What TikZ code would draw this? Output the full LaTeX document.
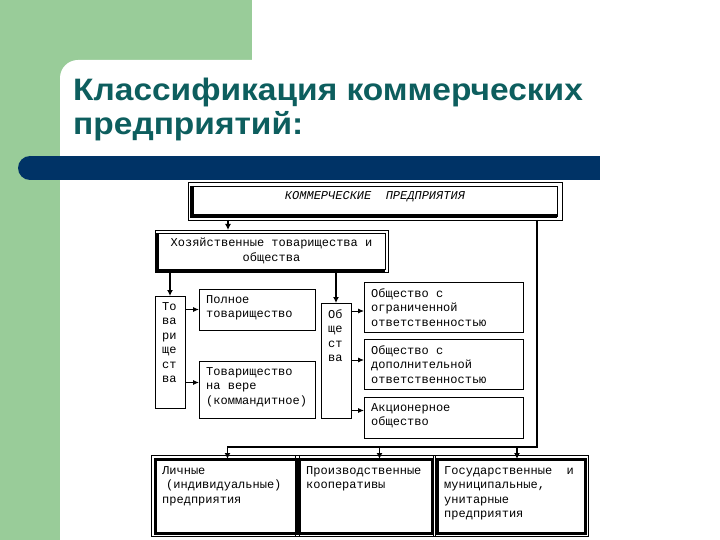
\documentclass[tikz,border=0pt]{standalone}
\usepackage{fontspec}
\setmainfont{Liberation Sans}
\setmonofont{Liberation Mono}
\usetikzlibrary{arrows.meta,calc}
\definecolor{LeafGreen}{RGB}{153, 204, 153}
\definecolor{BarNavy}{RGB}{0, 51, 102}
\definecolor{TitleTeal}{RGB}{13, 94, 94}

\tikzset{
    box/.style={draw, line width=0.8pt, anchor=north west, inner sep=0pt, outer sep=0pt},
    txt/.style={anchor=north west, align=left, inner xsep=7pt, inner ysep=6pt,
        font=\ttfamily\fontsize{12}{14.5}\selectfont},
    link/.style={line width=1.8pt, -{Latex[length=6pt,width=6pt]}},
    thinlink/.style={line width=0.9pt, -{Latex[length=6pt,width=5pt]}},
}

\begin{document}
\begin{tikzpicture}[x=1pt, y=-1pt]
    \useasboundingbox (0,0) rectangle (720,540);
    % Slide background
    \fill[white] (0,0) rectangle (720,540);
    \fill[LeafGreen] (0,0) rectangle (252,80);
    \fill[LeafGreen] (0,0) rectangle (60,540);
    \fill[white, rounded corners=18pt] (60,60) rectangle (740,560);
    \fill[BarNavy] (30,168) circle (12);
    \fill[BarNavy] (30,156) rectangle (600,180);
    % Title
    \node[anchor=base west, align=left, inner sep=0pt, text=TitleTeal, xscale=1.08, transform shape,
        font=\bfseries\fontsize{31}{34}\selectfont] (title) at (73,135)
        {Классификация коммерческих\\предприятий:};
    % Boxes
    \node[box, line width=0.6pt, minimum width=374pt, minimum height=38pt,
        label={[txt, anchor=north, inner ysep=9pt, font=\ttfamily\itshape\fontsize{12}{14.5}\selectfont]north:КОММЕРЧЕСКИЕ~~ПРЕДПРИЯТИЯ}] (top) at (188,182) {};
    \node[box, line width=0.6pt, minimum width=233pt, minimum height=42pt, align=center,
        font=\ttfamily\fontsize{12}{14.5}\selectfont] (hoz) at (155,230)
        {Хозяйственные товарищества и\\общества};
    \node[box, minimum width=30pt, minimum height=112pt,
        label={[txt]north west:То\\ва\\ри\\ще\\ст\\ва}] (tovcol) at (155,296) {};
    \node[box, minimum width=116pt, minimum height=41pt,
        label={[txt]north west:Полное\\товарищество}] (poln) at (199,289) {};
    \node[box, minimum width=116pt, minimum height=57pt,
        label={[txt]north west:Товарищество\\на вере\\(коммандитное)}] (vera) at (199,361) {};
    \node[box, minimum width=30pt, minimum height=115pt,
        label={[txt]north west:Об\\ще\\ст\\ва}] (obcol) at (321,303) {};
    \node[box, minimum width=159pt, minimum height=50pt,
        label={[txt]north west:Общество с\\ограниченной\\ответственностью}] (ooo) at (364,282) {};
    \node[box, minimum width=159pt, minimum height=50pt,
        label={[txt]north west:Общество с\\дополнительной\\ответственностью}] (odo) at (364,339) {};
    \node[box, minimum width=159pt, minimum height=41pt,
        label={[txt]north west:Акционерное\\общество}] (ao) at (364,397) {};
    \node[box, line width=3pt, minimum width=141pt, minimum height=74pt,
        label={[txt, inner ysep=7pt]north west:Личные\\\hspace{4pt}(индивидуальные)\\предприятия}] (lich) at (155,459) {};
    \node[box, line width=3pt, minimum width=133pt, minimum height=74pt,
        label={[txt, inner ysep=7pt]north west:Производственные\\кооперативы}] (prod) at (299,459) {};
    \node[box, line width=3pt, minimum width=148pt, minimum height=74pt,
        label={[txt, inner ysep=7pt]north west:Государственные~~и\\муниципальные,\\унитарные\\предприятия}] (gos) at (437,459) {};
    % Shadow frames
    \draw[line width=0.6pt] ($(top.north west)+(4,4)$) rectangle ($(top.south east)+(-5,-4)$);
    \draw[line width=4pt] ($(top.north west)+(4,4)$) -- ($(top.south west)+(4,-4)$) -- ($(top.south east)+(-5,-4)$);
    \draw[line width=0.6pt] ($(hoz.north west)+(3,3)$) rectangle ($(hoz.south east)+(-3,-3)$);
    \draw[line width=3pt] ($(hoz.north west)+(2,3)$) -- ($(hoz.south west)+(2,-2)$) -- ($(hoz.south east)+(-3,-2)$);
    \foreach \b in {lich, prod, gos} {
        \draw[line width=0.5pt] ($(\b.north west)+(-3.5,-3.5)$) rectangle ($(\b.south east)+(3.5,3.5)$);
    }
    % Connectors
    \coordinate (bus) at (537,447);
    \draw[link] ($(top.south west)+(40,0)$) -- ($(hoz.north west)+(73,0)$);
    \draw[link] (hoz.south -| tovcol.north) -- (tovcol.north);
    \draw[link] (hoz.south -| obcol.north) -- (obcol.north);
    \draw[thinlink] (tovcol.east |- poln.west) -- (poln.west);
    \draw[thinlink] ($(tovcol.east |- vera.west)+(0,-7)$) -- ($(vera.west)+(0,-7)$);
    \draw[thinlink] ($(obcol.east |- ooo.west)+(0,4)$) -- ($(ooo.west)+(0,4)$);
    \draw[thinlink] ($(obcol.east |- odo.west)+(0,-4)$) -- ($(odo.west)+(0,-4)$);
    \draw[thinlink] ($(obcol.east |- ao.west)+(0,-7)$) -- ($(ao.west)+(0,-7)$);
    \draw[line width=2.5pt] ($(top.south east)+(-25,0)$) -- (bus) -- ($(bus -| lich.north)+(1,0)$);
    \draw[link] ($(bus -| lich.north)+(2,0)$) -- ($(lich.north)+(2,0)$);
    \draw[link] ($(bus -| prod.north)+(14,0)$) -- ($(prod.north)+(14,0)$);
    \draw[link] ($(bus -| gos.north)+(6,0)$) -- ($(gos.north)+(6,0)$);
\end{tikzpicture}
\end{document}
